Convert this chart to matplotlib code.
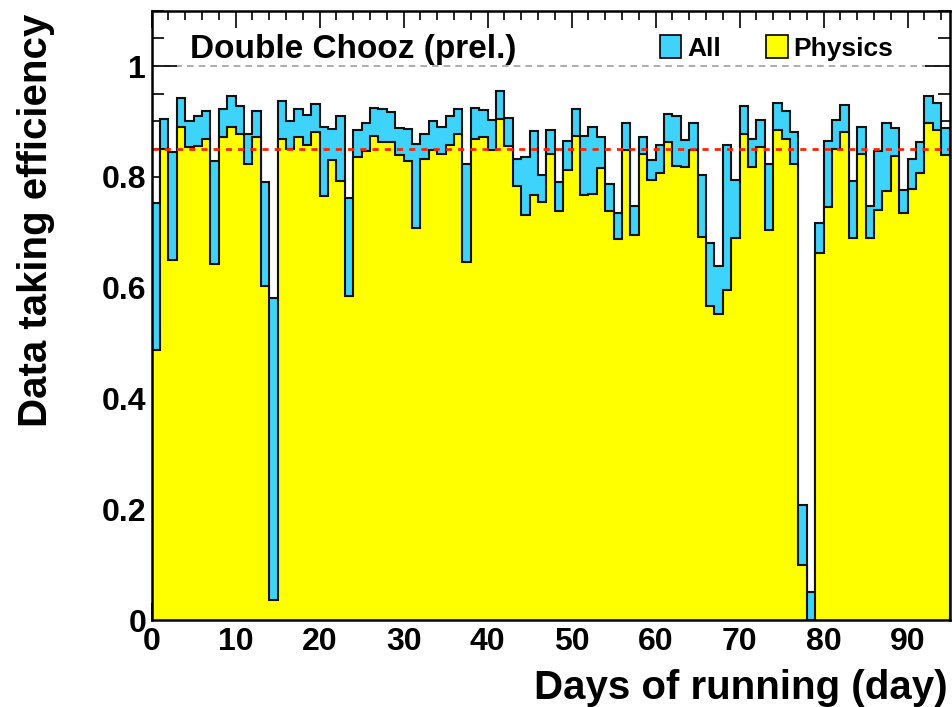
import matplotlib
matplotlib.use('Agg')
import matplotlib.pyplot as plt
from matplotlib.ticker import MultipleLocator, FixedLocator, FixedFormatter
from matplotlib.patches import Rectangle
import numpy as np

plt.rcParams['font.family'] = ['Liberation Sans', 'DejaVu Sans']
plt.rcParams['font.weight'] = 'bold'

# ---- data: one bin per day of running ----
day_edges = list(range(0, 96))
all_eff = [0.752, 0.904, 0.845, 0.942, 0.900, 0.909, 0.919, 0.829, 0.922, 0.946,
           0.927, 0.878, 0.918, 0.791, 0.581, 0.937, 0.900, 0.922, 0.912, 0.931,
           0.890, 0.886, 0.910, 0.762, 0.884, 0.897, 0.924, 0.922, 0.917, 0.888,
           0.886, 0.859, 0.878, 0.900, 0.890, 0.909, 0.922, 0.823, 0.925, 0.921,
           0.903, 0.954, 0.906, 0.832, 0.835, 0.883, 0.803, 0.884, 0.791, 0.865,
           0.922, 0.874, 0.890, 0.871, 0.787, 0.735, 0.898, 0.748, 0.871, 0.830,
           0.857, 0.913, 0.909, 0.866, 0.898, 0.804, 0.681, 0.639, 0.857, 0.795,
           0.928, 0.868, 0.903, 0.824, 0.934, 0.918, 0.880, 0.208, 0.051, 0.717,
           0.865, 0.903, 0.930, 0.793, 0.890, 0.747, 0.847, 0.897, 0.888, 0.777,
           0.833, 0.863, 0.946, 0.934, 0.888]
physics_eff = [0.487, 0.851, 0.650, 0.889, 0.853, 0.855, 0.868, 0.642, 0.872, 0.889,
               0.877, 0.823, 0.871, 0.602, 0.036, 0.868, 0.851, 0.872, 0.857, 0.880,
               0.765, 0.830, 0.793, 0.585, 0.836, 0.847, 0.874, 0.862, 0.862, 0.839,
               0.829, 0.707, 0.832, 0.848, 0.841, 0.857, 0.878, 0.647, 0.868, 0.871,
               0.848, 0.904, 0.856, 0.783, 0.731, 0.767, 0.755, 0.841, 0.738, 0.813,
               0.874, 0.768, 0.769, 0.815, 0.738, 0.687, 0.848, 0.695, 0.841, 0.794,
               0.806, 0.863, 0.819, 0.817, 0.848, 0.692, 0.566, 0.552, 0.596, 0.689,
               0.878, 0.818, 0.853, 0.704, 0.884, 0.868, 0.824, 0.099, 0.000, 0.663,
               0.746, 0.851, 0.880, 0.690, 0.841, 0.690, 0.740, 0.775, 0.838, 0.734,
               0.778, 0.807, 0.897, 0.884, 0.839]
target_eff = 0.85
ref_line = 1.0
x_ticks = [0, 10, 20, 30, 40, 50, 60, 70, 80, 90]
y_ticks = [0, 0.2, 0.4, 0.6, 0.8, 1.0]
y_tick_labels = ['0', '0.2', '0.4', '0.6', '0.8', '1']

title = 'Double Chooz (prel.)'
legend_labels = ['All', 'Physics']
x_label = 'Days of running (day)'
y_label = 'Data taking efficiency'

col_all = '#3dd3fb'
col_phys = '#ffff00'

W, H = 952, 707
fig = plt.figure(figsize=(W / 100, H / 100), dpi=100)
L, R, B, T = 151.7, 949.5, 620.0, 10.6
ax = fig.add_axes([L / W, 1 - B / H, (R - L) / W, (B - T) / H])

ax.stairs(all_eff, day_edges, fill=True, facecolor=col_all, edgecolor='#111111',
          linewidth=1.5, zorder=2)
ax.stairs(physics_eff, day_edges, fill=True, facecolor=col_phys, edgecolor='#111111',
          linewidth=1.5, zorder=3)

ax.axhline(ref_line, color='#a0a0a0', lw=1.2, ls=(0, (4, 3)), zorder=1)
ax.axhline(target_eff, color='#ff2200', lw=2.0, ls=(0, (2.2, 2.2)), zorder=4)

ax.set_xlim(0, 95)
ax.set_ylim(0, 1.1)

ax.xaxis.set_major_locator(FixedLocator(x_ticks))
ax.xaxis.set_minor_locator(MultipleLocator(2))
ax.yaxis.set_major_locator(FixedLocator(y_ticks))
ax.yaxis.set_major_formatter(FixedFormatter(y_tick_labels))
ax.yaxis.set_minor_locator(MultipleLocator(0.05))

ax.tick_params(axis='both', which='both', direction='in', top=True, right=True,
               colors='black', zorder=6)
ax.tick_params(axis='x', which='major', length=12.5, width=1.2, labelsize=23, pad=5)
ax.tick_params(axis='x', which='minor', length=6.3, width=1.2)
ax.tick_params(axis='y', which='major', length=18, width=1.2, labelsize=23, pad=4)
ax.tick_params(axis='y', which='minor', length=8.6, width=1.2)
for lab in ax.get_xticklabels() + ax.get_yticklabels():
    lab.set_fontweight('bold')

for s in ax.spines.values():
    s.set_linewidth(1.8)
    s.set_zorder(7)

ax.text(0.048, 0.922, title, transform=ax.transAxes, fontsize=24, fontweight='bold',
        ha='left', va='baseline', zorder=8)

# legend (manual)
for fx, col, lab in [(0.637, col_all, legend_labels[0]), (0.770, col_phys, legend_labels[1])]:
    ax.add_patch(Rectangle((fx, 0.922), 0.027, 0.038, transform=ax.transAxes,
                           facecolor=col, edgecolor='black', lw=1.2, zorder=8))
    ax.text(fx + 0.034, 0.925, lab, transform=ax.transAxes, fontsize=19,
            fontweight='bold', ha='left', va='baseline', zorder=8)

fig.text(948 / W, 1 - 699 / H, x_label, fontsize=29, fontweight='bold',
         ha='right', va='baseline')
fig.text(36 / W, 1 - 14 / H, y_label, fontsize=29, fontweight='bold',
         rotation=90, ha='center', va='top')

fig.savefig('out.png', dpi=100)
